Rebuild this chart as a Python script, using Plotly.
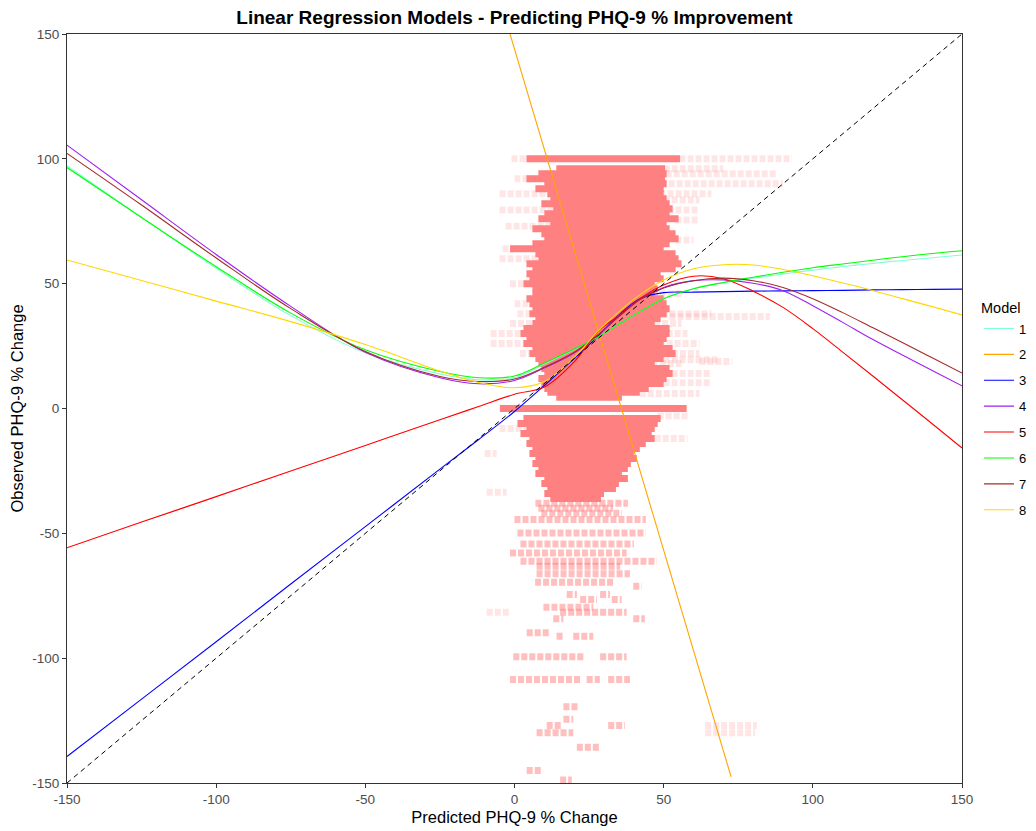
import plotly.graph_objects as go

# ---------------- data ----------------
x_ticks = [-150, -100, -50, 0, 50, 100, 150]
x_tick_labels = ["-150", "-100", "-50", "0", "50", "100", "150"]
y_ticks = [-150, -100, -50, 0, 50, 100, 150]
y_tick_labels = ["-150", "-100", "-50", "0", "50", "100", "150"]

model_names = ["1", "2", "3", "4", "5", "6", "7", "8"]

# fitted model curves (predicted vs smoothed observed)
model_x = [-150, -125, -100, -75, -50, -25, -12, 0, 10, 20, 28, 35, 42, 50,
           60, 70, 80, 90, 100, 110, 120, 130, 140, 150]
model1_y = [97.2, 76.5, 56.2, 37.2, 22.3, 13.8, 11.5, 12.3, 17.8, 23.6, 28.6, 33.8, 38.8, 44.0,
            48.0, 50.3, 52.2, 53.9, 55.4, 56.8, 58.1, 59.3, 60.4, 61.5]
model3_y = [-139.4, -116.4, -93.4, -70.3, -47.3, -24.3, -12.4, -1.2, 9.2, 20.0, 29.0, 37.5, 44.0, 46.4,
            46.6, 46.8, 47.0, 47.1, 47.2, 47.3, 47.5, 47.6, 47.7, 47.8]
model4_y = [105.5, 83.6, 61.7, 40.9, 22.5, 12.3, 9.9, 11.2, 16.2, 22.2, 29.5, 37.0, 43.8, 48.5,
            51.2, 51.5, 50.2, 47.2, 41.2, 34.5, 27.7, 21.4, 15.2, 9.1]
model5_y = [-55.8, -45.5, -35.3, -25.0, -14.8, -4.5, 0.8, 5.7, 8.6, 18.7, 30.8, 37.3, 44.0, 49.5,
            53.0, 52.0, 47.0, 40.5, 32.0, 22.6, 13.1, 3.5, -6.1, -15.8]
model6_y = [96.5, 76.5, 56.8, 38.2, 23.5, 14.8, 12.3, 13.0, 18.2, 23.8, 28.6, 33.8, 38.8, 44.0,
            48.0, 50.5, 52.6, 54.6, 56.4, 57.9, 59.4, 60.8, 62.1, 63.2]
model7_y = [102.2, 81.5, 60.3, 40.0, 22.8, 12.8, 10.8, 11.8, 16.5, 22.5, 29.5, 36.8, 43.5, 48.3,
            51.2, 52.2, 51.2, 48.5, 44.0, 38.4, 32.4, 26.4, 20.3, 14.2]
model8_y = [59.5, 51.3, 43.0, 34.8, 25.6, 15.0, 10.4, 8.3, 10.8, 20.5, 31.0, 38.8, 45.5, 51.5,
            56.0, 57.6, 57.5, 55.7, 53.2, 50.3, 47.3, 44.0, 40.8, 37.5]
model2_x = [-3.0, 28.0, 72.6]
model2_y = [156.0, 31.5, -147.5]

ref_x = [-150, 150]
ref_y = [-150, 150]

# observed vs predicted scatter, summarised as horizontal runs of points
# dense runs: observed value, first and last predicted value of the run
dense_y = [100, 96, 94, 92, 90, 88, 86, 84, 82, 80, 78, 76, 74, 72, 70, 68, 66, 64, 62, 60,
           58, 56, 54, 52, 50, 48, 46, 44, 42, 40, 38, 36, 34, 32, 30, 28, 26, 24, 22, 20,
           18, 16, 14, 12, 10, 8, 6.5, 4.5, 0,
           -4, -6, -8, -10, -12, -14, -16, -18, -20, -22, -24, -26, -28, -30, -32, -34, -36]
dense_x0 = [4, 14, 8, 4, 10, 7, 11, 12, 9, 13, 10, 8, 12, 6, 9, 10, 6, -1.5, 7, 8,
            4, 6, 4, 5, 3, 6, 6, 4, 5, 6, 5, 7, 6, 3, 2, 4, 3, 6, 5, 7,
            8, 9, 10, 8, 9, 10, 11, 14, -4.9,
            3, 1, 4, 2, 5, 4, 6, 5, 7, 6, 8, 7, 10, 9, 11, 10, 12]
dense_x1 = [55.5, 50.5, 51, 50.5, 51, 50, 50, 51, 52, 53, 52, 55, 51, 52, 54, 55, 52, 50, 54, 55,
            56, 54, 49, 50, 47, 48, 47, 50, 51, 52, 51, 49, 47, 52, 52, 51, 50, 53, 54, 50,
            47, 52, 53, 51, 50, 45, 42, 36, 57.7,
            49, 48, 47, 46, 47, 44, 42, 40, 41, 39, 38, 36, 38, 35, 34, 30, 29]

# medium-density runs
mid_y = [-38, -40, -42, -44.5, -49.9, -54.3, -57.9, -61.2, -63.2, -66.2, -69.6, -71.2,
         -74.5, -74.5, -76.5, -76.5, -79.6, -81.6, -84.2, -84.2, -89.8, -91.2, -91.2,
         -99.4, -99.4, -108.5, -108.5, -108.5, -119.5, -124.5, -127, -127, -129.9,
         -135.7, -145, -148.8]
mid_x0 = [7, 8, 9, 0, 1, 2, -1.5, 2, 7.4, 7.4, 6.9, 39.8,
          17.5, 28.7, 22, 32.6, 9.7, 15.3, 13, 39.8, 4.1, 14.1, 19.7,
          -0.4, 28.7, -1.5, 24.2, 31.4, 16.4, 16.4, 10.8, 31.4, 7.4,
          20.9, 4.1, 15.3]
mid_x1 = [38, 33, 36, 44, 44, 40, 37.6, 47.7, 35.4, 38.7, 33.1, 42.6,
          20.9, 32, 27.6, 35.9, 26.4, 37.6, 16.4, 43.7, 11.9, 16.4, 26.4,
          23.1, 37.6, 22, 28.6, 38.7, 21.4, 19.7, 15.8, 37, 19.7,
          28.6, 9, 19.2]

# sparse runs
sparse_y = [100, 96, 94, 92, 90, 86, 83.5, 79.5, 75.5, 73, 67.5, 64, 60, 50, 46, 42, 38,
            36.8, 34, 30, 26, 22, 19.5, 18.8, 18, 14, 10.3, 6, -3, -8, -12, -18, -33.5,
            -81.6, -127, -129.9]
sparse_x0 = [-1, 50, 48, 0, 49, -5, 50, -5, 54, -3, 54, -4, -5, -1.5, 46, 0, 1,
             52, -1.5, -8, -8, 1.8, 50, 62, 46, 50, 50, 42, 48, -5, 47, -10, -9.3,
             -9.3, 63.9, 63.9]
sparse_x1 = [93, 70, 88, 8, 90, 66, 62, 62, 62, 12, 60, 0, 8, 3, 56, 5, 66,
             85.6, 56, 58, 62, 62, 68, 73, 56, 66, 66, 62, 58, 5, 58, -6, -2.6,
             -1.5, 81.2, 80.6]

# ---------------- figure ----------------
model_colors = ["#7FFFD4", "#FFA500", "#0000FF", "#A020F0", "#FF0000", "#00FF00", "#A52A2A", "#FFD700"]
point_rgb = "255,128,128"
FONT = "Liberation Sans, Arial, sans-serif"

fig = go.Figure()


def add_runs(ys, x0s, x1s, color, width, dash="solid"):
    xs, yy = [], []
    for y, a, b in zip(ys, x0s, x1s):
        xs += [a, b, None]
        yy += [y, y, None]
    fig.add_trace(go.Scatter(x=xs, y=yy, mode="lines",
                             line=dict(color=color, width=width, dash=dash),
                             hoverinfo="skip", showlegend=False))


add_runs(sparse_y, sparse_x0, sparse_x1, f"rgba({point_rgb},0.2)", 7, "6px,2px")
add_runs(mid_y, mid_x0, mid_x1, f"rgba({point_rgb},0.5)", 7, "6px,2px")
add_runs(dense_y, dense_x0, dense_x1, f"rgb({point_rgb})", 7)

model_ys = [model1_y, None, model3_y, model4_y, model5_y, model6_y, model7_y, model8_y]
for i, name in enumerate(model_names):
    if name == "2":
        xs, ys = model2_x, model2_y
        shape = "linear"
    else:
        xs, ys = model_x, model_ys[i]
        shape = "spline"
    fig.add_trace(go.Scatter(x=xs, y=ys, mode="lines", name=name, legendgroup=name,
                             line=dict(color=model_colors[i], width=1.1, shape=shape, smoothing=1.0)))

fig.add_trace(go.Scatter(x=ref_x, y=ref_y, mode="lines", showlegend=False, hoverinfo="skip",
                         line=dict(color="black", width=1, dash="5px,4px")))

axis_common = dict(
    showline=True, mirror=True, linecolor="#333333", linewidth=1,
    ticks="outside", ticklen=4, tickwidth=1, tickcolor="#333333",
    showgrid=False, zeroline=False,
    tickfont=dict(family=FONT, size=13.5, color="#4D4D4D"),
)

# page body has an 8px margin: the figure is sized and offset accordingly
fig.update_layout(
    width=1028, height=823,
    margin=dict(l=59, r=74, t=26, b=48, autoexpand=False),
    paper_bgcolor="white", plot_bgcolor="white",
    font=dict(family=FONT, color="black"),
    title=dict(text="<b>Linear Regression Models - Predicting PHQ-9 % Improvement</b>",
               x=(59 + 954) / 2 / 1028, xanchor="center", y=1 - 9 / 823, yanchor="middle",
               yref="container", font=dict(size=19, color="black")),
    xaxis=dict(range=[-150, 150], tickvals=x_ticks, ticktext=x_tick_labels,
               title=dict(text="Predicted PHQ-9 % Change", font=dict(size=16.5), standoff=5),
               **axis_common),
    yaxis=dict(range=[-150, 150], tickvals=y_ticks, ticktext=y_tick_labels,
               title=dict(text="Observed PHQ-9 % Change", font=dict(size=16.5), standoff=6),
               **axis_common),
    legend=dict(x=0.019, xref="paper", xanchor="left", y=0.652, yanchor="top",
                title=dict(text="Model", font=dict(size=14.5)),
                font=dict(size=13), tracegroupgap=6, bgcolor="rgba(0,0,0,0)"),
    showlegend=True,
)
fig.update_layout(legend_x=1.019)

fig.write_html("out.html")
